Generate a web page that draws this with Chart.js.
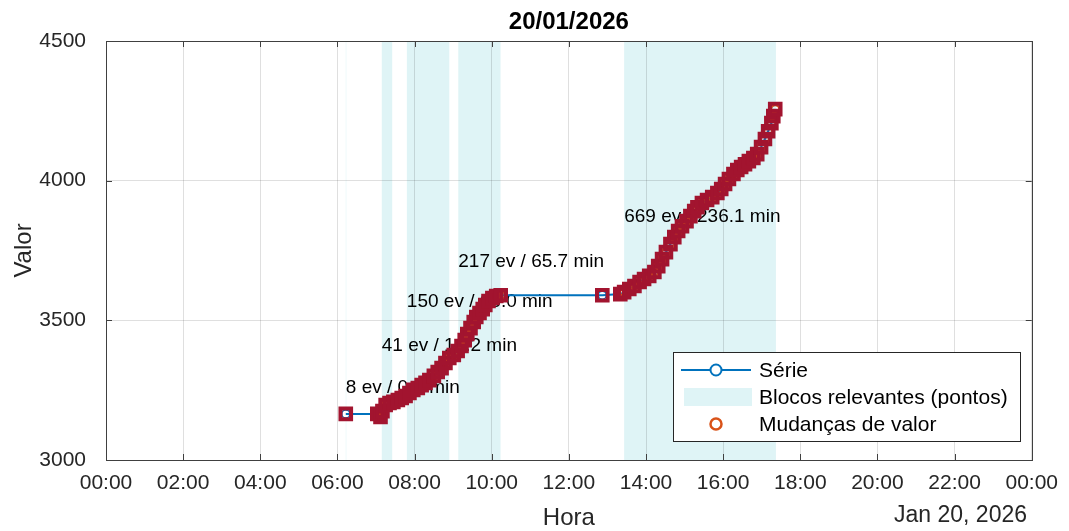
<!DOCTYPE html>
<html>
<head>
<meta charset="utf-8">
<script src="https://cdn.jsdelivr.net/npm/chart.js@4/dist/chart.umd.min.js"></script>
<style>
  html, body { margin: 0; padding: 0; background: #ffffff; }
  #wrap { width: 1069px; height: 531px; }
</style>
</head>
<body>
<div id="wrap"><canvas id="c" width="1069" height="531"></canvas></div>
<script>
// ---- chart texts ----
const chartTitle = '20/01/2026';
const xAxisTitle = 'Hora';
const yAxisTitle = 'Valor';
const dateStamp = 'Jan 20, 2026';
const legendNames = ['Série', 'Blocos relevantes (pontos)', 'Mudanças de valor'];

// ---- axes ----
const xTickHours = [0, 2, 4, 6, 8, 10, 12, 14, 16, 18, 20, 22, 24];
const yTicks = [3000, 3500, 4000, 4500];

// ---- series: time of day and value ----
const times = [
  '06:13',
  '07:02', '07:07', '07:10', '07:15', '07:21', '07:27', '07:34', '07:40', '07:46',
  '07:52', '07:58', '08:05', '08:11', '08:17', '08:23', '08:30', '08:36', '08:42',
  '08:48', '08:54', '09:01', '09:07', '09:13', '09:18', '09:22', '09:27', '09:32',
  '09:36', '09:41', '09:46', '09:50', '09:55', '10:01', '10:07', '10:14',
  '12:52',
  '13:20', '13:26', '13:34', '13:42', '13:50', '13:57', '14:05', '14:13', '14:19',
  '14:25', '14:31', '14:38', '14:44', '14:50', '14:56', '15:03', '15:09', '15:15',
  '15:20', '15:27', '15:35', '15:43', '15:51', '15:57', '16:03', '16:09', '16:16',
  '16:22', '16:28', '16:34', '16:40', '16:47', '16:53', '16:59', '17:05', '17:10',
  '17:15', '17:18', '17:21'
];
const values = [
  3165,
  3165, 3154, 3175, 3197, 3204, 3208, 3215, 3222, 3229,
  3240, 3251, 3258, 3268, 3276, 3286, 3301, 3315, 3329,
  3347, 3365, 3376, 3390, 3408, 3429, 3451, 3472, 3494,
  3512, 3526, 3540, 3555, 3569, 3580, 3587, 3590,
  3590,
  3594, 3601, 3612, 3623, 3637, 3648, 3659, 3673, 3694,
  3719, 3744, 3773, 3798, 3820, 3837, 3855, 3873, 3891,
  3905, 3920, 3931, 3941, 3956, 3970, 3988, 4006, 4024,
  4038, 4049, 4059, 4070, 4081, 4095, 4120, 4149, 4177,
  4206, 4231, 4256
];

// ---- relevant blocks: start, duration (min), event count ----
const blockStarts = ['06:13', '07:09', '07:48', '09:08', '13:26'];
const blockMinutes = [0.4, 16.2, 66.0, 65.7, 236.1];
const blockEvents = [8, 41, 150, 217, 669];
// value at which each block's caption sits
const captionValues = [3258, 3408, 3565, 3709, 3870];

// ---- helpers ----
const FONT = "'Liberation Sans', Arial, Helvetica, sans-serif";
const toHours = t => { const [h, m] = t.split(':').map(Number); return h + m / 60; };
const pad2 = n => String(n).padStart(2, '0');

const seriesPts = times.map((t, i) => ({ x: toHours(t), y: values[i] }));
const changePts = seriesPts.filter((p, i) => i > 0 && values[i] !== values[i - 1]);
const blocks = blockStarts.map((s, i) => ({
  x0: toHours(s),
  x1: toHours(s) + blockMinutes[i] / 60,
  label: `${blockEvents[i]} ev / ${blockMinutes[i].toFixed(1)} min`,
  yLabel: captionValues[i]
}));

const BLUE = '#0072BD';
const ORANGE = '#D95319';
const DARKRED = '#A2142F';
const SHADE = '#dff4f6';
const AXIS = '#404040';
const TEXT = '#262626';

// shaded blocks under the grid
const shadePlugin = {
  id: 'shade',
  beforeDraw(chart) {
    const { ctx, chartArea: a, scales: { x } } = chart;
    ctx.save();
    ctx.fillStyle = SHADE;
    blocks.forEach(b => {
      const p0 = x.getPixelForValue(b.x0), p1 = x.getPixelForValue(b.x1);
      ctx.fillRect(p0, a.top, Math.max(p1 - p0, 0.5), a.bottom - a.top);
    });
    ctx.restore();
  }
};

// axes box, inward ticks, block captions (under the markers)
const framePlugin = {
  id: 'frame',
  beforeDatasetsDraw(chart) {
    const { ctx, chartArea: a, scales: { x, y } } = chart;
    ctx.save();
    ctx.strokeStyle = AXIS;
    ctx.lineWidth = 1;
    ctx.beginPath();
    xTickHours.forEach(h => {
      const px = Math.round(x.getPixelForValue(h)) + 0.5;
      ctx.moveTo(px, a.bottom); ctx.lineTo(px, a.bottom - 6);
      ctx.moveTo(px, a.top); ctx.lineTo(px, a.top + 6);
    });
    yTicks.forEach(v => {
      const py = Math.round(y.getPixelForValue(v)) + 0.5;
      ctx.moveTo(a.left, py); ctx.lineTo(a.left + 6, py);
      ctx.moveTo(a.right, py); ctx.lineTo(a.right - 6, py);
    });
    ctx.stroke();
    ctx.strokeRect(Math.round(a.left) + 0.5, Math.round(a.top) + 0.5,
      Math.round(a.right - a.left), Math.round(a.bottom - a.top));

    ctx.fillStyle = '#000';
    ctx.font = `19px ${FONT}`;
    ctx.textAlign = 'left';
    ctx.textBaseline = 'middle';
    blocks.forEach(b => {
      ctx.fillText(b.label, x.getPixelForValue(b.x0), y.getPixelForValue(b.yLabel));
    });
    ctx.restore();
  }
};

// titles, date stamp and legend box
const textPlugin = {
  id: 'texts',
  afterDraw(chart) {
    const { ctx, chartArea: a } = chart;
    const cx = (a.left + a.right) / 2;
    ctx.save();
    ctx.fillStyle = '#000';
    ctx.textAlign = 'center';
    ctx.textBaseline = 'middle';
    ctx.font = `bold 24px ${FONT}`;
    ctx.fillText(chartTitle, cx, 22);
    ctx.fillStyle = TEXT;
    ctx.font = `24px ${FONT}`;
    ctx.fillText(xAxisTitle, cx, 518);
    ctx.textAlign = 'right';
    ctx.font = `23px ${FONT}`;
    ctx.fillText(dateStamp, 1027, 516);
    ctx.save();
    ctx.translate(24, (a.top + a.bottom) / 2);
    ctx.rotate(-Math.PI / 2);
    ctx.textAlign = 'center';
    ctx.font = `24px ${FONT}`;
    ctx.fillText(yAxisTitle, 0, 0);
    ctx.restore();

    // legend
    const L = { x: 673, y: 352, w: 347, h: 89 };
    ctx.fillStyle = '#fff';
    ctx.fillRect(L.x, L.y, L.w, L.h);
    ctx.strokeStyle = TEXT;
    ctx.lineWidth = 1;
    ctx.strokeRect(L.x + 0.5, L.y + 0.5, L.w, L.h);
    const rows = [370, 397, 424];
    const sx0 = 681, sx1 = 751, scx = 716;
    // Série
    ctx.strokeStyle = BLUE;
    ctx.lineWidth = 2;
    ctx.beginPath(); ctx.moveTo(sx0, rows[0]); ctx.lineTo(sx1, rows[0]); ctx.stroke();
    ctx.fillStyle = '#fff';
    ctx.beginPath(); ctx.arc(scx, rows[0], 5.5, 0, Math.PI * 2); ctx.fill(); ctx.stroke();
    // Blocos
    ctx.fillStyle = SHADE;
    ctx.fillRect(sx0 + 3, rows[1] - 9, sx1 - sx0 - 2, 18);
    // Mudanças
    ctx.strokeStyle = ORANGE;
    ctx.lineWidth = 2.5;
    ctx.beginPath(); ctx.arc(scx, rows[2], 5.5, 0, Math.PI * 2); ctx.stroke();

    ctx.fillStyle = '#000';
    ctx.textAlign = 'left';
    ctx.textBaseline = 'middle';
    ctx.font = `21px ${FONT}`;
    legendNames.forEach((n, i) => ctx.fillText(n, 759, rows[i] + 1));
    ctx.restore();
  }
};

new Chart(document.getElementById('c'), {
  type: 'line',
  data: {
    datasets: [
      {
        label: 'Pontos relevantes',
        data: seriesPts,
        showLine: false,
        pointStyle: 'rect',
        pointRadius: 7.5,
        pointBorderWidth: 4,
        pointBorderColor: DARKRED,
        pointBackgroundColor: 'rgba(0,0,0,0)',
        borderColor: DARKRED
      },
      {
        label: legendNames[2],
        data: changePts,
        showLine: false,
        pointStyle: 'circle',
        pointRadius: 4,
        pointBorderWidth: 2,
        pointBorderColor: ORANGE,
        pointBackgroundColor: 'rgba(0,0,0,0)',
        borderColor: ORANGE
      },
      {
        label: legendNames[0],
        data: seriesPts,
        borderColor: BLUE,
        borderWidth: 2,
        tension: 0,
        fill: false,
        pointStyle: 'circle',
        pointRadius: 4,
        pointBorderWidth: 1.5,
        pointBorderColor: BLUE,
        pointBackgroundColor: 'rgba(0,0,0,0)'
      }
    ]
  },
  options: {
    responsive: false,
    animation: false,
    devicePixelRatio: 1,
    layout: { padding: { top: 41, right: 36, bottom: 0, left: 0 } },
    plugins: {
      legend: { display: false },
      title: { display: false },
      tooltip: { enabled: false }
    },
    scales: {
      x: {
        type: 'linear',
        min: 0,
        max: 24,
        afterBuildTicks: s => { s.ticks = xTickHours.map(v => ({ value: v })); },
        afterFit: s => { s.height = 71; },
        border: { display: false },
        grid: { color: 'rgba(38,38,38,0.15)', drawTicks: false },
        ticks: {
          maxRotation: 0,
          autoSkip: false,
          padding: 11,
          color: TEXT,
          font: { family: FONT, size: 21 },
          callback: v => pad2(v % 24) + ':00'
        }
      },
      y: {
        min: 3000,
        max: 4500,
        afterBuildTicks: s => { s.ticks = yTicks.map(v => ({ value: v })); },
        afterFit: s => { s.width = 106; },
        border: { display: false },
        grid: { color: 'rgba(38,38,38,0.15)', drawTicks: false },
        ticks: {
          padding: 20,
          color: TEXT,
          font: { family: FONT, size: 21 },
          callback: v => String(v)
        }
      }
    }
  },
  plugins: [shadePlugin, framePlugin, textPlugin]
});
</script>
</body>
</html>
